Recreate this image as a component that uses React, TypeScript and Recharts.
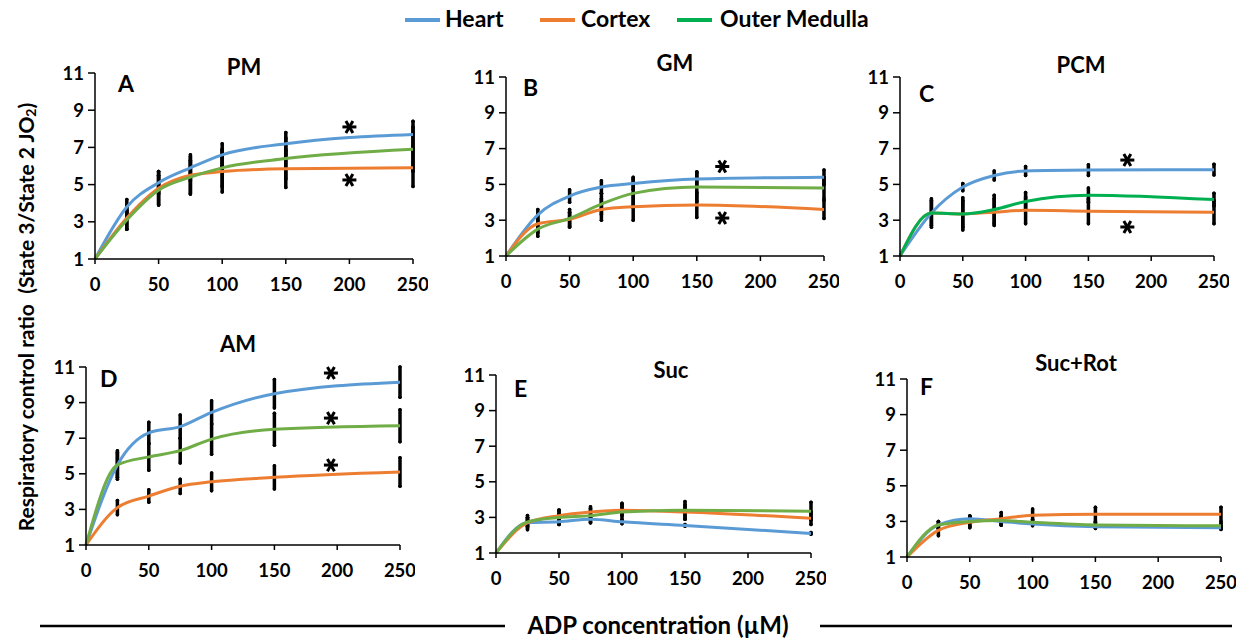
import React from "react"
import { ComposedChart, Line, XAxis, YAxis, ErrorBar, ReferenceDot } from "recharts"

// ADP concentration (µM)
const adp = [0, 25, 50, 75, 100, 150, 250]
const xTicks = [0, 50, 100, 150, 200, 250]
const yTicks = [1, 3, 5, 7, 9, 11]

// A - PM
const heartPM = [1, 3.8, 5.1, 5.9, 6.6, 7.2, 7.7]
const cortexPM = [1, 3.2, 4.8, 5.5, 5.7, 5.85, 5.9]
const medullaPM = [1, 3.1, 4.7, 5.4, 5.9, 6.4, 6.9]
const heartErrPM = [0, 0.4, 0.6, 0.7, 0.6, 0.6, 0.7]
const cortexErrPM = [0, 0.6, 0.9, 1.0, 1.1, 1.0, 1.0]
const medullaErrPM = [0, 0.5, 0.8, 0.9, 1.0, 1.1, 1.2]
const starsPM = [{ x: 200, y: 8.1 }, { x: 200, y: 5.25 }]

// B - GM
const heartGM = [1, 3.3, 4.35, 4.85, 5.05, 5.3, 5.4]
const cortexGM = [1, 2.8, 3.05, 3.6, 3.75, 3.85, 3.6]
const medullaGM = [1, 2.5, 3.1, 3.9, 4.5, 4.85, 4.8]
const heartErrGM = [0, 0.3, 0.35, 0.35, 0.35, 0.4, 0.4]
const cortexErrGM = [0, 0.5, 0.4, 0.6, 0.75, 0.7, 0.5]
const medullaErrGM = [0, 0.4, 0.5, 0.6, 0.8, 0.8, 0.6]
const starsGM = [{ x: 170, y: 6.0 }, { x: 170, y: 3.12 }]

// C - PCM
const heartPCM = [1, 3.4, 4.85, 5.5, 5.75, 5.8, 5.82]
const cortexPCM = [1, 3.4, 3.35, 3.45, 3.55, 3.5, 3.45]
const medullaPCM = [1, 3.4, 3.35, 3.6, 4.05, 4.4, 4.15]
const heartErrPCM = [0, 0, 0.2, 0.25, 0.25, 0.3, 0.3]
const cortexErrPCM = [0, 0.8, 0.75, 0.75, 0.75, 0.7, 0.65]
const medullaErrPCM = [0, 0.7, 0.9, 0.8, 0.5, 0.4, 0.35]
const starsPCM = [{ x: 181, y: 6.36 }, { x: 181, y: 2.62 }]

// D - AM
const heartAM = [1, 5.5, 7.3, 7.65, 8.45, 9.5, 10.15]
const cortexAM = [1, 3.1, 3.75, 4.3, 4.55, 4.8, 5.1]
const medullaAM = [1, 5.5, 5.95, 6.3, 6.95, 7.5, 7.7]
const heartErrAM = [0, 0.8, 0.6, 0.65, 0.65, 0.8, 0.85]
const cortexErrAM = [0, 0.4, 0.35, 0.4, 0.5, 0.65, 0.8]
const medullaErrAM = [0, 0.7, 0.75, 0.7, 0.85, 0.9, 0.9]
const starsAM = [{ x: 195, y: 10.66 }, { x: 195, y: 8.13 }, { x: 195, y: 5.49 }]

// E - Suc
const heartSuc = [1, 2.7, 2.75, 2.9, 2.75, 2.55, 2.1]
const cortexSuc = [1, 2.7, 3.1, 3.3, 3.4, 3.3, 2.95]
const medullaSuc = [1, 2.75, 3.0, 3.1, 3.3, 3.4, 3.35]
const heartErrSuc = [0, 0.3, 0.15, 0.2, 0.1, 0.05, 0.05]
const cortexErrSuc = [0, 0.4, 0.3, 0.3, 0.3, 0.4, 0.35]
const medullaErrSuc = [0, 0.25, 0.4, 0.4, 0.5, 0.5, 0.5]

// F - Suc+Rot
const heartSucRot = [1, 2.8, 3.15, 3.0, 2.85, 2.7, 2.65]
const cortexSucRot = [1, 2.5, 2.95, 3.15, 3.35, 3.4, 3.4]
const medullaSucRot = [1, 2.8, 3.0, 3.05, 2.95, 2.8, 2.75]
const heartErrSucRot = [0, 0.2, 0.15, 0.2, 0.1, 0.1, 0.1]
const cortexErrSucRot = [0, 0.3, 0.3, 0.35, 0.35, 0.4, 0.4]
const medullaErrSucRot = [0, 0.2, 0.3, 0.25, 0.15, 0.15, 0.15]

const BLUE = "#5B9BD5"
const ORANGE = "#ED7D31"
const GREEN = "#70AD47"
const BRIGHT_GREEN = "#00B050"
const FONT = "Lato, 'Open Sans', sans-serif"

type Star = { x: number; y: number }
type Box = { l: number; r: number; t: number; b: number }

function rowsOf(h: number[], c: number[], m: number[], he: number[], ce: number[], me: number[]) {
  return adp.map((x, i) => ({
    x,
    heart: h[i],
    cortex: c[i],
    medulla: m[i],
    heartErr: he[i],
    cortexErr: ce[i],
    medullaErr: me[i],
  }))
}

const panels = [
  { rows: rowsOf(heartPM, cortexPM, medullaPM, heartErrPM, cortexErrPM, medullaErrPM), stars: starsPM, green: GREEN },
  { rows: rowsOf(heartGM, cortexGM, medullaGM, heartErrGM, cortexErrGM, medullaErrGM), stars: starsGM, green: GREEN },
  { rows: rowsOf(heartPCM, cortexPCM, medullaPCM, heartErrPCM, cortexErrPCM, medullaErrPCM), stars: starsPCM, green: BRIGHT_GREEN },
  { rows: rowsOf(heartAM, cortexAM, medullaAM, heartErrAM, cortexErrAM, medullaErrAM), stars: starsAM, green: GREEN },
  { rows: rowsOf(heartSuc, cortexSuc, medullaSuc, heartErrSuc, cortexErrSuc, medullaErrSuc), stars: [], green: GREEN },
  { rows: rowsOf(heartSucRot, cortexSucRot, medullaSucRot, heartErrSucRot, cortexErrSucRot, medullaErrSucRot), stars: [], green: GREEN },
]

// plot areas (pixels) and titles
const boxes: Box[] = [
  { l: 95, r: 413, t: 73, b: 259 },
  { l: 506, r: 824, t: 77, b: 256 },
  { l: 900, r: 1214, t: 77, b: 256 },
  { l: 86, r: 400, t: 367, b: 545 },
  { l: 496, r: 811, t: 375, b: 553 },
  { l: 907, r: 1221, t: 379, b: 557 },
]
const titles = [
  { text: "PM", x: 244, y: 75, letter: "A", lx: 118, ly: 92 },
  { text: "GM", x: 675, y: 71, letter: "B", lx: 523, ly: 96 },
  { text: "PCM", x: 1081, y: 73, letter: "C", lx: 919, ly: 102 },
  { text: "AM", x: 238, y: 352, letter: "D", lx: 100, ly: 387 },
  { text: "Suc", x: 671, y: 378, letter: "E", lx: 514, ly: 397 },
  { text: "Suc+Rot", x: 1076, y: 371, letter: "F", lx: 920, ly: 395 },
]

const ML = 60
const MT = 20
const MR = 15
const MB = 50
const tickStyle = { fill: "#000", fontSize: 18.5, fontWeight: 700, fontFamily: FONT }

const asterisk = (p: any) => {
  const { cx, cy } = p
  const r = 7
  const dx = r * 0.5
  const dy = r * 0.866
  return (
    <g stroke="#000" strokeWidth={3} strokeLinecap="butt">
      <line x1={cx - r} y1={cy} x2={cx + r} y2={cy} />
      <line x1={cx - dx} y1={cy - dy} x2={cx + dx} y2={cy + dy} />
      <line x1={cx + dx} y1={cy - dy} x2={cx - dx} y2={cy + dy} />
    </g>
  )
}

function Panel({ rows, stars, green, box }: { rows: any[]; stars: Star[]; green: string; box: Box }) {
  const series = [
    { key: "heart", color: BLUE },
    { key: "cortex", color: ORANGE },
    { key: "medulla", color: green },
  ]
  return (
    <div style={{ position: "absolute", left: box.l - ML, top: box.t - MT }}>
      <ComposedChart
        width={box.r - box.l + ML + MR}
        height={box.b - box.t + MT + MB}
        data={rows}
        margin={{ top: MT, right: MR, left: 0, bottom: 0 }}
      >
        <XAxis
          dataKey="x"
          type="number"
          domain={[0, 250]}
          ticks={xTicks}
          interval={0}
          height={MB}
          tickSize={5}
          tickMargin={14}
          stroke="#000"
          strokeWidth={1.5}
          tick={tickStyle}
        />
        <YAxis
          type="number"
          domain={[1, 11]}
          ticks={yTicks}
          interval={0}
          width={ML}
          tickSize={7}
          tickMargin={4}
          stroke="#000"
          strokeWidth={1.5}
          tick={tickStyle}
        />
        {series.map((s) => (
          <Line
            key={s.key + "-err"}
            dataKey={s.key}
            stroke="none"
            dot={false}
            activeDot={false}
            isAnimationActive={false}
            legendType="none"
          >
            <ErrorBar dataKey={s.key + "Err"} width={0} stroke="#000" strokeWidth={3.5} strokeLinecap="round" direction="y" />
          </Line>
        ))}
        {series.map((s) => (
          <Line
            key={s.key}
            type="monotone"
            dataKey={s.key}
            stroke={s.color}
            strokeWidth={3}
            dot={false}
            activeDot={false}
            isAnimationActive={false}
          />
        ))}
        {stars.map((s, i) => (
          <ReferenceDot key={i} x={s.x} y={s.y} r={0} shape={asterisk} ifOverflow="visible" />
        ))}
      </ComposedChart>
    </div>
  )
}

export default function App() {
  return (
    <div style={{ position: "absolute", left: 0, top: 0, width: 1247, height: 638, background: "#fff", overflow: "hidden" }}>
      {panels.map((p, i) => (
        <Panel key={i} rows={p.rows} stars={p.stars} green={p.green} box={boxes[i]} />
      ))}
      <svg width={1247} height={638} style={{ position: "absolute", left: 0, top: 0, pointerEvents: "none" }}>
        <g fontFamily={FONT} fontWeight={700} fill="#000">
          {/* legend */}
          <line x1={405} y1={20} x2={440} y2={20} stroke={BLUE} strokeWidth={4} />
          <text x={445} y={27} fontSize={23}>Heart</text>
          <line x1={540} y1={20} x2={575} y2={20} stroke={ORANGE} strokeWidth={4} />
          <text x={581} y={27} fontSize={23}>Cortex</text>
          <line x1={677} y1={20} x2={712} y2={20} stroke={BRIGHT_GREEN} strokeWidth={4} />
          <text x={720} y={27} fontSize={23}>Outer Medulla</text>

          {titles.map((t) => (
            <g key={t.letter}>
              <text x={t.x} y={t.y} fontSize={22} textAnchor="middle">{t.text}</text>
              <text x={t.lx} y={t.ly} fontSize={23}>{t.letter}</text>
            </g>
          ))}

          <text
            x={25}
            y={317}
            fontSize={21}
            textAnchor="middle"
            dominantBaseline="central"
            transform="rotate(-90, 25, 317)"
            style={{ whiteSpace: "pre" }}
          >
            {"Respiratory control ratio  (State 3/State 2 JO"}
            <tspan fontSize={14} dy={5}>2</tspan>
            <tspan dy={-5}>)</tspan>
          </text>

          <line x1={40} y1={626} x2={505} y2={626} stroke="#000" strokeWidth={2.5} />
          <line x1={820} y1={626} x2={1232} y2={626} stroke="#000" strokeWidth={2.5} />
          <text x={658} y={634} fontSize={24} textAnchor="middle">ADP concentration (µM)</text>
        </g>
      </svg>
    </div>
  )
}
